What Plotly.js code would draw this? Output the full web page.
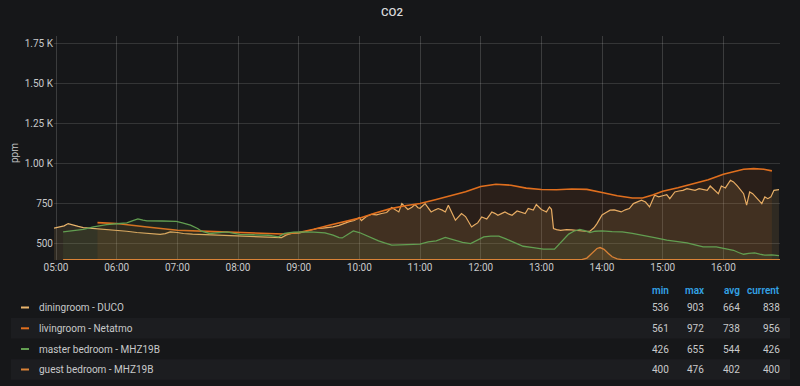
<!DOCTYPE html>
<html>
<head>
<meta charset="utf-8">
<script src="https://cdn.plot.ly/plotly-3.0.1.min.js"></script>
<style>
html,body{margin:0;padding:0;background:#161719;}
#chart{width:800px;height:386px;}
</style>
</head>
<body>
<div id="chart"></div>
<script>
// ---------- data ----------
var DAY = '2021-01-01 ';

var diningTimes = ['04:58','05:03','05:08','05:12','05:17','05:22','05:27','05:33','05:39','05:50','06:00','06:10','06:20','06:30','06:43','06:48','06:53','07:00','07:06','07:15','07:26','07:35','07:45','07:55','08:02','08:10','08:20','08:30','08:38','08:43','08:48','08:53','09:01','09:10','09:18','09:24','09:29','09:34','09:40','09:46','09:50','09:55','10:00','10:02','10:07','10:12','10:17','10:22','10:27','10:32','10:36','10:39','10:42','10:45','10:48','10:52','10:55','10:58','11:00','11:05','11:08','11:11','11:15','11:18','11:22','11:25','11:28','11:31','11:35','11:38','11:41','11:45','11:48','11:51','11:54','11:57','12:01','12:04','12:06','12:09','12:11','12:14','12:17','12:21','12:24','12:28','12:31','12:36','12:40','12:44','12:47','12:50','12:52','12:55','12:58','13:00','13:03','13:05','13:08','13:10','13:12','13:15','13:19','13:25','13:30','13:38','13:43','13:48','13:52','13:55','14:00','14:04','14:08','14:12','14:15','14:19','14:23','14:27','14:31','14:35','14:39','14:43','14:47','14:52','14:56','15:00','15:04','15:07','15:12','15:16','15:20','15:24','15:28','15:32','15:36','15:40','15:44','15:47','15:50','15:55','15:58','16:02','16:07','16:10','16:14','16:17','16:20','16:23','16:26','16:29','16:33','16:36','16:38','16:41','16:44','16:47','16:50','16:55'];
var diningValues = [598,604,612,626,615,608,601,598,595,590,584,578,570,566,559,563,574,570,564,560,557,554,551,548,547,545,543,540,536,538,555,564,567,580,595,598,601,605,615,630,638,645,664,645,670,684,680,689,695,726,710,699,751,730,714,728,745,725,722,751,728,699,712,720,710,699,741,700,647,668,689,670,640,605,618,630,667,660,655,680,699,690,678,690,699,685,678,705,695,689,720,715,710,745,725,714,705,699,730,715,595,588,584,588,586,580,578,578,600,626,680,695,710,712,705,699,712,720,751,760,772,761,730,803,793,800,807,782,824,830,834,845,838,834,845,838,834,861,845,813,861,849,897,887,860,834,813,741,824,813,782,765,751,793,782,793,834,839];

var livingTimes = ['05:41','06:00','06:30','07:00','07:30','08:00','08:30','08:45','09:00','09:15','09:30','09:45','10:00','10:15','10:30','10:45','11:00','11:15','11:30','11:45','12:00','12:15','12:30','12:45','13:00','13:15','13:30','13:45','14:00','14:15','14:30','14:40','14:50','15:00','15:15','15:30','15:45','16:00','16:10','16:20','16:30','16:40','16:48'];
var livingValues = [632,626,605,584,577,572,565,561,570,590,615,638,660,690,718,738,752,775,800,825,858,872,866,848,839,838,842,840,820,800,786,786,805,828,850,876,900,935,950,966,970,966,956];

var masterTimes = ['05:07','05:17','05:27','05:37','05:50','06:00','06:10','06:16','06:21','06:26','06:30','06:45','06:59','07:05','07:13','07:20','07:24','07:32','07:40','07:49','07:55','08:02','08:15','08:30','08:40','08:46','08:55','09:03','09:15','09:26','09:34','09:40','09:43','09:48','09:54','10:00','10:06','10:12','10:19','10:25','10:32','10:40','10:52','11:00','11:08','11:16','11:25','11:30','11:35','11:42','11:50','11:57','12:03','12:10','12:18','12:25','12:32','12:42','12:52','13:02','13:13','13:18','13:22','13:27','13:32','13:38','13:43','13:48','13:53','14:00','14:10','14:20','14:30','14:41','14:52','15:04','15:14','15:24','15:32','15:40','15:53','16:00','16:10','16:15','16:20','16:25','16:31','16:36','16:41','16:48','16:55'];
var masterValues = [574,580,590,605,620,625,630,645,655,648,643,642,640,630,616,595,578,564,568,574,566,559,556,553,543,564,572,574,572,568,553,538,536,555,580,570,553,535,518,505,491,493,497,497,512,518,539,530,518,508,501,525,543,547,547,530,511,484,475,466,466,500,532,560,578,590,582,570,578,580,576,574,565,553,538,522,512,505,492,480,480,470,459,445,434,440,443,435,428,430,426];

var guestTimes = ['05:07','06:05','06:12','06:18','06:25','06:40','06:45','06:50','13:40','13:45','13:50','13:55','13:58','14:02','14:06','14:10','14:15','14:20','16:56'];
var guestValues = [400,400,404,404,400,400,403,400,400,410,440,470,476,465,440,418,405,400,400];

var seriesNames = ['diningroom - DUCO','livingroom - Netatmo','master bedroom - MHZ19B','guest bedroom - MHZ19B'];
var statHeaders = ['min','max','avg','current'];
var statMin = [536,561,426,400];
var statMax = [903,972,655,476];
var statAvg = [664,738,544,402];
var statCurrent = [838,956,426,400];

var yTickVals = [500,750,1000,1250,1500,1750];
var yTickText = ['500','750','1.00 K','1.25 K','1.50 K','1.75 K'];

// ---------- styles ----------
var seriesColors = ['#E9B46C','#E06F1E','#629E51','#D98236'];
var fillColors = ['rgba(233,180,108,0.12)','rgba(224,111,30,0.10)','rgba(98,158,81,0.10)','rgba(217,130,54,0.10)'];
var lineWidths = [1.2,1.6,1.3,1.3];

function toDates(arr){ return arr.map(function(t){ return DAY + t; }); }

var allTimes = [diningTimes, livingTimes, masterTimes, guestTimes];
var allValues = [diningValues, livingValues, masterValues, guestValues];

var traces = [];
for (var i = 0; i < 4; i++) {
  traces.push({
    type: 'scatter', mode: 'lines',
    x: toDates(allTimes[i]), y: allValues[i],
    name: seriesNames[i],
    line: {color: seriesColors[i], width: lineWidths[i]},
    fill: 'tozeroy', fillcolor: fillColors[i],
    hoverinfo: 'skip'
  });
}

// ---------- layout geometry ----------
var W = 800, H = 386;
var M = {l: 54, r: 20, t: 36, b: 126};
var PW = W - M.l - M.r, PH = H - M.t - M.b;
function px(x){ return (x - M.l) / PW; }
function py(y){ return (H - M.b - y) / PH; }

var textColor = '#c8c9ca';
var annotations = [];
var shapes = [];

// y-axis title
annotations.push({xref:'paper', yref:'paper', x: px(14), y: py(153), text:'ppm', showarrow:false,
  textangle:-90, xanchor:'center', yanchor:'middle', font:{family:'Roboto', size:10, color:textColor}});

// legend table
var rowY = [307.5, 328.3, 349, 369.5];
var colRight = [671, 706, 742, 782];
var statCols = [statMin, statMax, statAvg, statCurrent];

// stripes
[1,3].forEach(function(r){
  shapes.push({type:'rect', xref:'paper', yref:'paper', layer:'below',
    x0: px(11), x1: px(790), y0: py(rowY[r] - 10.3), y1: py(rowY[r] + 10.3),
    fillcolor:'#1c1d20', line:{width:0}});
});

for (var c = 0; c < 4; c++) {
  annotations.push({xref:'paper', yref:'paper', x: px(colRight[c]), y: py(290), text: statHeaders[c],
    showarrow:false, xanchor:'right', yanchor:'middle',
    font:{family:'Roboto', size:10, color:'#33A2E5', weight:600}});
}
for (var r = 0; r < 4; r++) {
  shapes.push({type:'line', xref:'paper', yref:'paper', x0: px(21), x1: px(29), y0: py(rowY[r]), y1: py(rowY[r]),
    line:{color: seriesColors[r], width:2}});
  annotations.push({xref:'paper', yref:'paper', x: px(37), y: py(rowY[r]), text: seriesNames[r],
    showarrow:false, xanchor:'left', yanchor:'middle', font:{family:'Roboto', size:10, color:textColor}});
  for (var c2 = 0; c2 < 4; c2++) {
    annotations.push({xref:'paper', yref:'paper', x: px(colRight[c2]), y: py(rowY[r]), text: String(statCols[c2][r]),
      showarrow:false, xanchor:'right', yanchor:'middle', font:{family:'Roboto', size:10, color:textColor}});
  }
}

var layout = {
  width: W, height: H,
  margin: M,
  paper_bgcolor: '#161719', plot_bgcolor: '#161719',
  showlegend: false,
  font: {family: 'Roboto', color: textColor, size: 10},
  title: {text: 'CO2', x: 392/800, xref: 'container', xanchor: 'center', y: 1 - 12/386, yref: 'container', yanchor: 'middle',
    font: {family: 'Roboto', size: 11.5, color: '#d8d9da', weight: 500}},
  xaxis: {
    type: 'date',
    range: [DAY + '04:58', DAY + '16:56'],
    tick0: DAY + '05:00', dtick: 3600000,
    tickformat: '%H:%M',
    showgrid: true, gridcolor: 'rgba(255,255,255,0.16)', gridwidth: 1,
    zeroline: false, showline: false, ticks: '',
    tickfont: {family: 'Roboto', size: 10, color: textColor},
    fixedrange: true
  },
  yaxis: {
    range: [398, 1800],
    tickvals: yTickVals, ticktext: yTickText,
    showgrid: true, gridcolor: 'rgba(255,255,255,0.13)', gridwidth: 1,
    zeroline: false, showline: false, ticks: '',
    tickfont: {family: 'Roboto', size: 10, color: textColor},
    fixedrange: true
  },
  annotations: annotations,
  shapes: shapes
};

Plotly.newPlot('chart', traces, layout, {displayModeBar: false, staticPlot: true});
</script>
</body>
</html>
